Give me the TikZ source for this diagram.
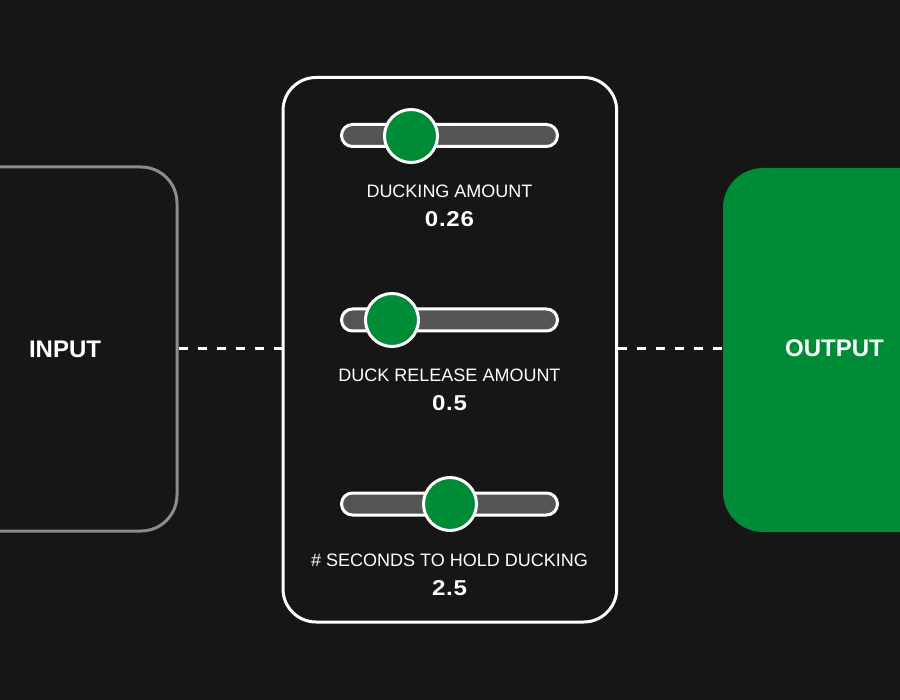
\documentclass[tikz,border=0pt]{standalone}
\usepackage{fontspec}
\setmainfont{Liberation Sans}
\definecolor{bgc}{HTML}{161616}
\definecolor{grn}{HTML}{008B37}
\definecolor{grayline}{HTML}{8C8C8C}
\definecolor{trackc}{HTML}{555555}
\newcommand{\widedigits}[1]{\scalebox{1.12}[1]{#1}}
\tikzset{
  panelbox/.style={draw=white, line width=3pt, rounded corners=33pt, inner sep=0pt, minimum width=333.7pt, minimum height=544.5pt},
  inbox/.style={draw=grayline, line width=3pt, rounded corners=36pt, inner sep=0pt, minimum width=260pt, minimum height=364pt},
  outbox/.style={fill=grn, rounded corners=40pt, inner sep=0pt, minimum width=260pt, minimum height=364pt},
  track/.style={draw=white, fill=trackc, line width=3pt, rounded corners=11pt, inner sep=0pt, minimum width=216pt, minimum height=22pt},
  knob/.style={circle, draw=white, fill=grn, line width=3pt, inner sep=0pt, minimum size=53pt},
  lbl/.style={text=white, anchor=base, inner sep=0pt, font=\fontsize{18}{20}\selectfont},
  val/.style={text=white, anchor=base, inner sep=0pt, font=\fontsize{21.5}{24}\selectfont\bfseries\addfontfeature{LetterSpace=3}},
  io/.style={text=white, anchor=base, inner sep=0pt, font=\fontsize{24}{26}\selectfont\bfseries},
  link/.style={draw=white, line width=3pt, dash pattern=on 9pt off 10pt}
}
\begin{document}
\begin{tikzpicture}[x=1pt,y=-1pt]
\fill[bgc] (0,0) rectangle (900,700);
\useasboundingbox (0,0) rectangle (900,700);
% boxes
\node[inbox] (in) at (47,349) {};
\node[outbox] (out) at (853,350) {};
\node[panelbox] (panel) at (449.85,349.75) {};
% io labels
\node[io] (intext) at (65,357.3) {INPUT};
\node[io] (outtext) at (834.5,356.7) {OUTPUT};
% connectors
\draw[link] (in.east |- 0,349) -- (panel.west |- 0,349);
\draw[link] (panel.east |- 0,349) -- (out.west |- 0,349);
% slider 1
\node[track] (t1) at (449.5,135.5) {};
\node[knob] (k1) at (411,136) {};
\node[lbl] (l1) at (449.5,198) {DUCKING AMOUNT};
\node[val] (v1) at (449.5,227) {\widedigits{0.26}};
% slider 2
\node[track] (t2) at (449.5,320) {};
\node[knob] (k2) at (392,320) {};
\node[lbl] (l2) at (449.5,382) {DUCK RELEASE AMOUNT};
\node[val] (v2) at (449.5,411) {\widedigits{0.5}};
% slider 3
\node[track] (t3) at (449.5,504) {};
\node[knob] (k3) at (450,504) {};
\node[lbl] (l3) at (449.5,566.5) {\# SECONDS TO HOLD DUCKING};
\node[val] (v3) at (449.5,595.5) {\widedigits{2.5}};
\end{tikzpicture}
\end{document}
